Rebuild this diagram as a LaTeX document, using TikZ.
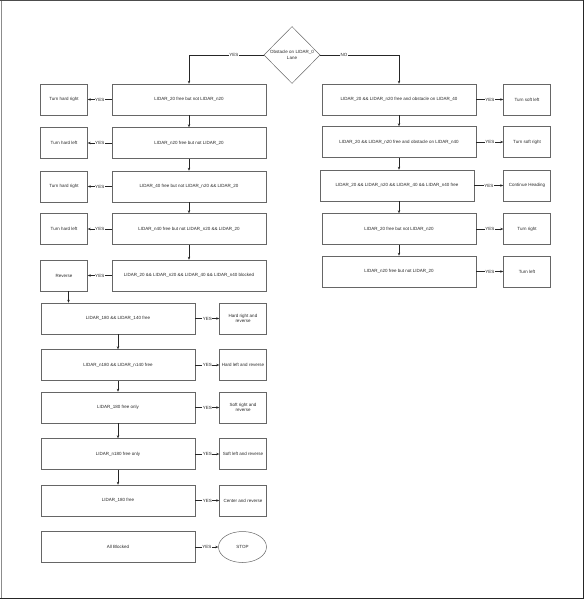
\documentclass[tikz,border=0pt]{standalone}
\usepackage{fontspec}
\setmainfont{Liberation Sans}
\usetikzlibrary{arrows.meta, positioning, shapes.geometric}

\begin{document}
\begin{tikzpicture}[
    x=1pt, y=1pt,
    node distance=12pt,
    tinyfont/.style={font=\fontsize{4.5}{5.4}\selectfont, text=black!85},
    block/.style={rectangle, draw=black!60, line width=0.5pt, minimum height=31pt, minimum width=154pt, align=center, tinyfont},
    result/.style={rectangle, draw=black!60, line width=0.5pt, minimum height=31pt, minimum width=47pt, inner sep=1pt, align=center, tinyfont},
    decision/.style={diamond, draw=black!60, line width=0.5pt, minimum width=55pt, minimum height=57pt, inner sep=1pt, align=center, tinyfont},
    stopnode/.style={ellipse, draw=black!60, line width=0.5pt, minimum width=48pt, minimum height=31pt, tinyfont},
    arrow/.style={-{Stealth[length=3pt, width=2.4pt]}, line width=0.45pt, draw=black!85},
    yes/.style={fill=white, inner sep=0.6pt, tinyfont}
]
\useasboundingbox (0,0) rectangle (584,-599);
\draw[black!45, line width=0.8pt] (1,0) -- (1,-599);
\draw[black!70, line width=1pt] (0,-0.5) -- (584,-0.5);
\draw[black!85, line width=1pt] (583.5,0) -- (583.5,-599);
\draw[black!85, line width=1pt] (0,-598) -- (584,-598);

\node[decision] (obst) at (292,-55) {Obstacle on LIDAR\_0\\Lane};

\node[block] (l1) at (189,-99.5) {LIDAR\_20 free but not LIDAR\_n20};
\node[block, below=12pt of l1] (l2) {LIDAR\_n20 free but not LIDAR\_20};
\node[block, below=12pt of l2] (l3) {LIDAR\_40 free but not LIDAR\_n20 \&\& LIDAR\_20};
\node[block, below=11pt of l3] (l4) {LIDAR\_n40 free but not LIDAR\_n20 \&\& LIDAR\_20};
\node[block, below=15pt of l4] (l5) {LIDAR\_20 \&\& LIDAR\_n20 \&\& LIDAR\_40 \&\& LIDAR\_n40 blocked};

\node[result, left=24pt of l1] (hardright) {Turn hard right};
\node[result, left=24pt of l2] (hardleft) {Turn hard left};
\node[result, left=24pt of l3] (hardright2) {Turn hard right};
\node[result, left=24pt of l4] (hardleft2) {Turn hard left};
\node[result, left=24pt of l5] (rev) {Reverse};

\node[block] (r1) at (399,-99.5) {LIDAR\_20 \&\& LIDAR\_n20 free and obstacle on LIDAR\_40};
\node[block, below=11pt of r1] (r2) {LIDAR\_20 \&\& LIDAR\_n20 free and obstacle on LIDAR\_n40};
\node[block, below=12pt of r2, xshift=-2pt] (r3) {LIDAR\_20 \&\& LIDAR\_n20 \&\& LIDAR\_40 \&\& LIDAR\_n40 free};
\node[block, below=12pt of r3, xshift=2pt] (r4) {LIDAR\_20 free but not LIDAR\_n20};
\node[block, below=11pt of r4] (r5) {LIDAR\_n20 free but not LIDAR\_20};

\node[result, right=27pt of r1] (softleft) {Turn soft left};
\node[result, right=27pt of r2] (softright) {Turn soft right};
\node[result, right=29pt of r3] (heading) {Continue Heading};
\node[result, right=27pt of r4] (right) {Turn right};
\node[result, right=27pt of r5] (left) {Turn left};

\node[block] (b1) at (118,-318.5) {LIDAR\_180 \&\& LIDAR\_140 free};
\node[block, below=15pt of b1] (b2) {LIDAR\_n180 \&\& LIDAR\_n140 free};
\node[block, below=11pt of b2] (b3) {LIDAR\_180 free only};
\node[block, below=15pt of b3] (b4) {LIDAR\_n180 free only};
\node[block, below=15pt of b4] (b5) {LIDAR\_180 free};
\node[block, below=15pt of b5] (b6) {All Blocked};

\node[result, right=24pt of b1] (hrrev) {Hard right and\\reverse};
\node[result, right=24pt of b2] (hlrev) {Hard left and reverse};
\node[result, right=24pt of b3] (srrev) {Soft right and\\reverse};
\node[result, right=24pt of b4] (slrev) {Soft left and reverse};
\node[result, right=24pt of b5] (crev) {Center and reverse};
\node[stopnode, right=23pt of b6] (stop) {STOP};

\draw[arrow] (obst.west) -| node[yes, pos=0.2] {YES} (l1.north);
\draw[arrow] (obst.east) -| node[yes, pos=0.15] {NO} (r1.north);

\draw[arrow] (l1) -- (l2);
\draw[arrow] (l2) -- (l3);
\draw[arrow] (l3) -- (l4);
\draw[arrow] (l4) -- (l5);

\draw[arrow] (l1) -- node[yes] {YES} (hardright);
\draw[arrow] (l2) -- node[yes] {YES} (hardleft);
\draw[arrow] (l3) -- node[yes] {YES} (hardright2);
\draw[arrow] (l4) -- node[yes] {YES} (hardleft2);
\draw[arrow] (l5) -- node[yes] {YES} (rev);

\draw[arrow] (r1) -- (r2);
\draw[arrow] (r2.south) -- (r2.south |- r3.north);
\draw[arrow] (r4.north |- r3.south) -- (r4.north);
\draw[arrow] (r4) -- (r5);

\draw[arrow] (r1) -- node[yes] {YES} (softleft);
\draw[arrow] (r2) -- node[yes] {YES} (softright);
\draw[arrow] (r3) -- node[yes] {YES} (heading);
\draw[arrow] (r4) -- node[yes] {YES} (right);
\draw[arrow] (r5) -- node[yes] {YES} (left);

\draw[arrow] ([xshift=4.5pt]rev.south) -- ([xshift=4.5pt]rev.south |- b1.north);

\draw[arrow] (b1) -- (b2);
\draw[arrow] (b2) -- (b3);
\draw[arrow] (b3) -- (b4);
\draw[arrow] (b4) -- (b5);

\draw[arrow] (b1) -- node[yes] {YES} (hrrev);
\draw[arrow] (b2) -- node[yes] {YES} (hlrev);
\draw[arrow] (b3) -- node[yes] {YES} (srrev);
\draw[arrow] (b4) -- node[yes] {YES} (slrev);
\draw[arrow] (b5) -- node[yes] {YES} (crev);
\draw[arrow] (b6) -- node[yes] {YES} (stop);
\end{tikzpicture}
\end{document}
